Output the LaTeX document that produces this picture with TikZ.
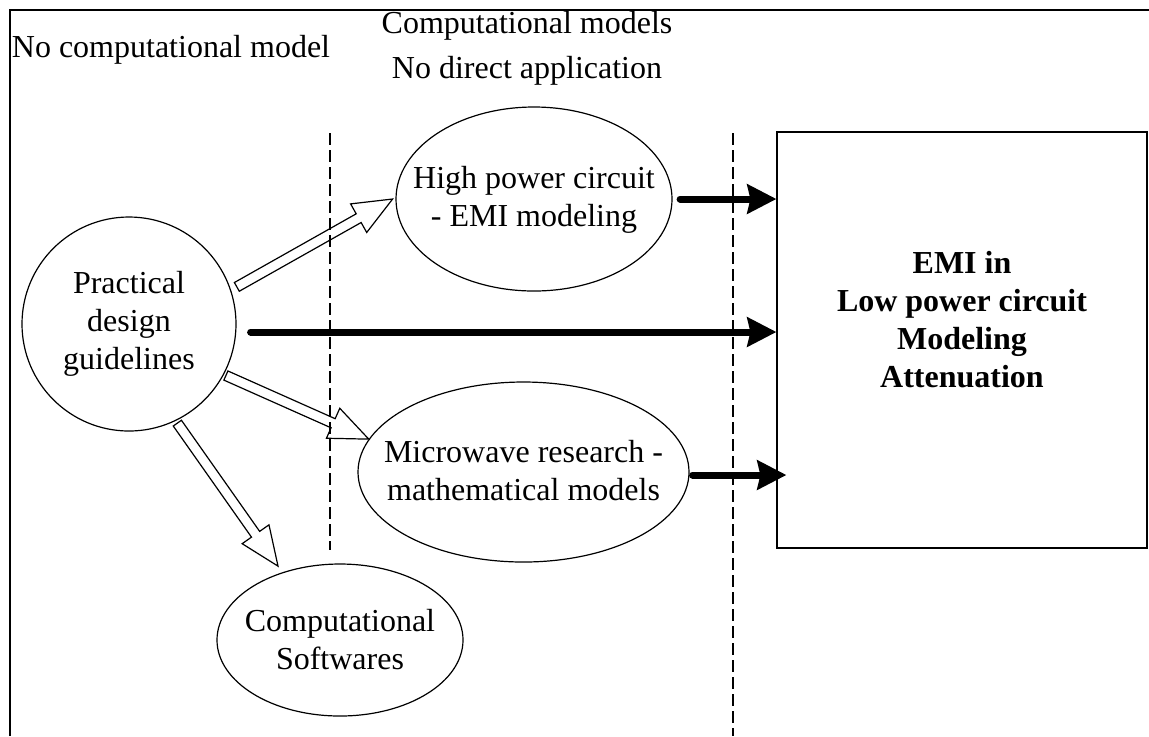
\documentclass[tikz,border=0pt]{standalone}
\usepackage{fontspec}
\setmainfont{Liberation Serif}
\usetikzlibrary{arrows.meta,calc,shapes.geometric}

\newcommand\blockarrow[2]{%
  \coordinate (baS) at (#1);
  \coordinate (baT) at (#2);
  \coordinate (baB) at ($(baT)!19.5pt!(baS)$);
  \draw[hollow] ($(baS)!2.5pt!90:(baT)$) -- ($(baB)!2.5pt!-90:(baS)$)
    -- ($(baB)!8.2pt!-90:(baS)$) -- (baT) -- ($(baB)!8.2pt!90:(baS)$)
    -- ($(baB)!2.5pt!90:(baS)$) -- ($(baS)!2.5pt!-90:(baT)$) -- cycle;
}

\begin{document}
\begin{tikzpicture}[x=0.5pt,y=-0.5pt,
  ell/.style={ellipse, draw, line width=0.6pt, inner sep=0pt},
  txt/.style={inner sep=0pt, align=center, font=\fontsize{16}{19}\selectfont},
  dashline/.style={line width=0.6pt, dash pattern=on 6pt off 2.5pt},
  hollow/.style={draw, line width=0.6pt, line join=miter},
  boldarrow/.style={line width=3.5pt, line cap=round,
    -{Stealth[length=14.5pt,width=14.5pt,inset=1.5pt]}},
  frame/.style={line width=0.7pt}]
\useasboundingbox (0,0) rectangle (1149,736);

% frame
\draw[frame] (10,736) -- (10,10) -- (1149,10);

% headers
\node[txt, anchor=base west] (h1) at (11.5,57) {No computational model};
\node[txt, anchor=base] (h2) at (527,33) {Computational models};
\node[txt, anchor=base] (h3) at (527,78) {No direct application};

% dashed separators
\draw[dashline] (330,133) -- (330,550);
\draw[dashline] (733,133) -- (733,736);

% nodes
\node[ell, circle, minimum size=107pt] (pdg) at (129,324) {};
\node[txt] (pdgt) at (pdg) {Practical\\design\\guidelines};
\node[ell, minimum width=138pt, minimum height=92pt] (hp) at (534,199) {};
\node[txt] (hpt) at (534,200) {High power circuit\\- EMI modeling};
\node[ell, minimum width=165.5pt, minimum height=90pt] (mw) at (523.5,472) {};
\node[txt] (mwt) at (523.5,471) {Microwave research -\\mathematical models};
\node[ell, minimum width=123pt, minimum height=76pt] (cs) at (340,640) {};
\node[txt] (cst) at (cs) {Computational\\Softwares};
\node[draw, line width=0.6pt, minimum width=185pt, minimum height=208pt, inner sep=0pt] (emi) at (962,340) {};
\node[txt, font=\bfseries\fontsize{16}{19}\selectfont] (emitxt) at (962,320)
  {EMI in\\Low power circuit\\Modeling\\Attenuation};

% hollow block arrows
\blockarrow{$(pdg.center)!1.06!(pdg.19)$}{$(hp.center)!1.02!(hp.west)$}
\blockarrow{$(pdg.center)!1.02!(pdg.-28)$}{mw.168}
\blockarrow{$(pdg.center)!1.025!(pdg.-64)$}{$(cs.center)!1.087!(cs.130)$}

% bold arrows
\coordinate (b1s) at ([xshift=3.75pt]hp.east);
\draw[boldarrow] (b1s) -- (b1s -| emi.west);
\coordinate (b2s) at ([xshift=7pt,yshift=-4pt]pdg.east);
\draw[boldarrow] (b2s) -- (b2s -| emi.west);
\coordinate (b3s) at ([xshift=1.5pt,yshift=-1.5pt]mw.east);
\coordinate (b3e) at ([xshift=5pt]b3s -| emi.west);
\draw[boldarrow] (b3s) -- (b3e);
\end{tikzpicture}
\end{document}
